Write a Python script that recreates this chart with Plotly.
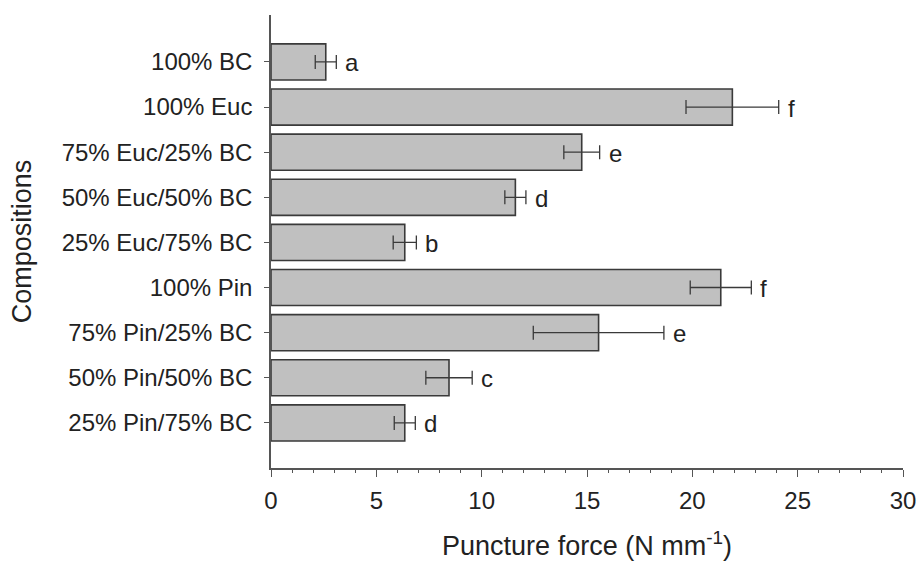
import plotly.graph_objects as go

categories = ["100% BC", "100% Euc", "75% Euc/25% BC", "50% Euc/50% BC", "25% Euc/75% BC",
              "100% Pin", "75% Pin/25% BC", "50% Pin/50% BC", "25% Pin/75% BC"]
values = [2.6, 21.9, 14.75, 11.6, 6.35, 21.35, 15.55, 8.45, 6.35]
errors = [0.5, 2.2, 0.85, 0.5, 0.55, 1.45, 3.1, 1.1, 0.5]
letters = ["a", "f", "e", "d", "b", "f", "e", "c", "d"]
xticks = [0, 5, 10, 15, 20, 25, 30]

ypos = list(range(len(categories)))
FONT = "Liberation Sans, Arial"

fig = go.Figure()
fig.add_trace(go.Bar(
    y=ypos, x=values, orientation="h", width=0.8,
    marker=dict(color="#c0c0c0", line=dict(color="#3a3a3a", width=1.6)),
    error_x=dict(type="data", array=errors, visible=True, color="#3a3a3a", thickness=1.3, width=7),
    showlegend=False,
))

for yi, v, e, l in zip(ypos, values, errors, letters):
    fig.add_annotation(x=v + e, y=yi, text=l, showarrow=False, xanchor="left",
                       xshift=7, yshift=-1, font=dict(family=FONT, size=24, color="#222"))

fig.update_layout(
    width=919, height=563,
    margin=dict(l=271, r=16, t=15, b=95),
    plot_bgcolor="white", paper_bgcolor="white",
    font=dict(family=FONT, size=24, color="#222"),
    bargap=0.2,
)
fig.update_xaxes(
    range=[0, 30], tickvals=xticks, ticktext=[str(t) for t in xticks],
    showline=True, linecolor="#555", linewidth=1.5, showgrid=False, zeroline=False,
    ticks="outside", ticklen=7, tickcolor="#555", ticklabelstandoff=3, automargin=False,
    minor=dict(dtick=1, ticks="outside", ticklen=3, tickcolor="#555"),
    title=dict(text="Puncture force (N mm<sup>-1</sup>)", standoff=24, font=dict(size=27)),
    tickfont=dict(size=24),
)
fig.update_yaxes(
    range=[9.0, -1.04], tickvals=ypos, ticktext=categories,
    showline=True, linecolor="#555", linewidth=1.5, showgrid=False, zeroline=False,
    ticks="outside", ticklen=5, tickcolor="#555", ticklabelstandoff=7, automargin=False,
    title=dict(text="Compositions", standoff=22, font=dict(size=27)),
    tickfont=dict(size=24),
)

fig.write_html("out.html")
